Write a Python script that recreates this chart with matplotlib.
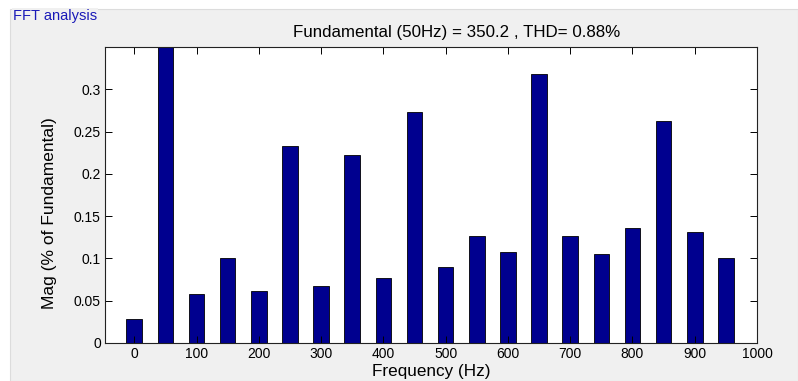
import numpy as np
import matplotlib.pyplot as plt
from matplotlib.patches import Rectangle

# harmonic magnitudes (% of fundamental), 50 Hz bin is clipped
freqs = [0, 50, 100, 150, 200, 250, 300, 350, 400, 450,
         500, 550, 600, 650, 700, 750, 800, 850, 900, 950]
mags = [0.028, 100.0, 0.058, 0.101, 0.061, 0.233, 0.067, 0.222, 0.077, 0.273,
        0.090, 0.126, 0.108, 0.318, 0.126, 0.105, 0.136, 0.263, 0.131, 0.101]
xticks = [0, 100, 200, 300, 400, 500, 600, 700, 800, 900, 1000]
yticks = [0, 0.05, 0.1, 0.15, 0.2, 0.25, 0.3]
ytick_labels = ["0", "0.05", "0.1", "0.15", "0.2", "0.25", "0.3"]

plt.rcParams['font.family'] = ['Liberation Sans', 'DejaVu Sans']

W, H = 798, 381
fig = plt.figure(figsize=(W / 100, H / 100), dpi=100, facecolor='white')

# uipanel-like grey background
panel = Rectangle((10 / W, 0), 1 - 10 / W, 1 - 9 / H, transform=fig.transFigure,
                  facecolor='#f0f0f0', edgecolor='#dcdcdc', linewidth=0.8, zorder=-10)
fig.patches.append(panel)
fig.text(13 / W, 1 - 16 / H, "FFT analysis", color='#1a1ab8', fontsize=10.5,
         ha='left', va='center', bbox=dict(facecolor='#f0f0f0', edgecolor='none', pad=0.5))

ax = fig.add_axes([105 / W, 1 - 343 / H, (757 - 105) / W, (343 - 47) / H])
ax.bar(freqs, mags, width=25, color='#00008f', edgecolor='black', linewidth=0.6)

ax.set_xlim(-47, 1000)
ax.set_ylim(0, 0.35)
ax.set_xticks(xticks)
ax.set_yticks(yticks)
ax.set_yticklabels(ytick_labels)
ax.tick_params(direction='in', length=5, width=0.7, top=True, right=True,
               labelsize=10, pad=3)
for s in ax.spines.values():
    s.set_linewidth(0.8)
    s.set_color('#222222')

ax.set_xlabel("Frequency (Hz)", fontsize=12.3, labelpad=2)
ax.set_ylabel("Mag (% of Fundamental)", fontsize=12.5, labelpad=6)
ax.yaxis.set_label_coords(-0.073, 0.44)
ax.set_title("Fundamental (50Hz) = 350.2 , THD= 0.88%", fontsize=12.2, pad=7, x=0.54)

fig.savefig("out.png", dpi=100, facecolor=fig.get_facecolor())
